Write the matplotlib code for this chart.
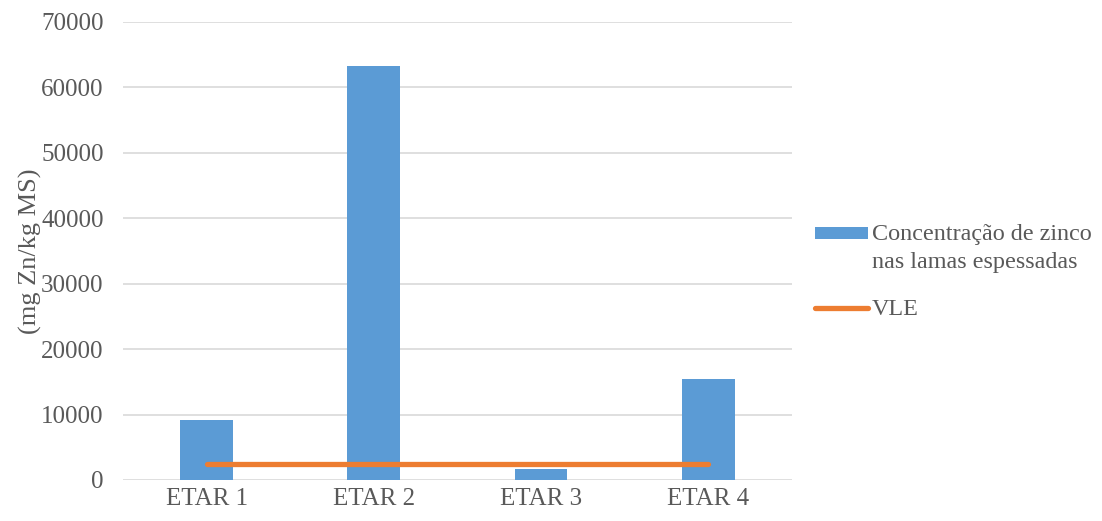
import matplotlib
matplotlib.use("Agg")
import matplotlib.pyplot as plt
from matplotlib.patches import Patch
from matplotlib.lines import Line2D

categories = ["ETAR 1", "ETAR 2", "ETAR 3", "ETAR 4"]
zinco = [9200, 63300, 1700, 15500]
vle = [2500, 2500, 2500, 2500]
yticks = [0, 10000, 20000, 30000, 40000, 50000, 60000, 70000]

plt.rcParams['font.family'] = ['Liberation Serif', 'DejaVu Serif']
gray = '#595959'
bar_c = '#5b9bd5'
line_c = '#ed7d31'
fs = 18
lfs = 17.4

fig = plt.figure(figsize=(11.02, 5.21), dpi=100)
ax = fig.add_axes([0.1116, 0.0787, 0.607, 0.8791])
x = list(range(len(categories)))
ax.bar(x, zinco, width=0.315, color=bar_c, zorder=2)
ax.plot(x, vle, color=line_c, lw=3.8, solid_capstyle='round', zorder=3)
ax.set_xlim(-0.5, 3.5)
ax.set_ylim(0, 70000)
ax.set_yticks(yticks)
ax.set_yticklabels([str(v) for v in yticks])
ax.set_xticks(x)
ax.set_xticklabels(categories)
ax.yaxis.grid(True, color='#d9d9d9', lw=1.2, zorder=0)
ax.set_axisbelow(True)
for s in ax.spines.values():
    s.set_visible(False)
ax.tick_params(axis='y', length=0, labelsize=fs, colors=gray, pad=14)
ax.tick_params(axis='x', length=0, labelsize=fs, colors=gray, pad=6)
ax.set_ylabel("(mg Zn/kg MS)", fontsize=19, color=gray, labelpad=-1)

handles = [Patch(facecolor=bar_c, edgecolor='none'),
           Line2D([0], [0], color=line_c, lw=3.8, solid_capstyle='round')]
labels = ["Concentração de zinco\nnas lamas espessadas", "VLE"]
leg = fig.legend(handles, labels, loc='upper left', bbox_to_anchor=(0.7396, 0.57),
                 frameon=False, fontsize=lfs, labelcolor=gray, handlelength=2.2,
                 handleheight=0.4, handletextpad=0.16, labelspacing=1.08,
                 borderpad=0, borderaxespad=0)
for t in leg.get_texts():
    t.set_linespacing(1.45)
rect = leg.legend_handles[0]
rect.set_y(rect.get_y() + 0.62 * lfs)
fig.savefig("out.png", dpi=100)
